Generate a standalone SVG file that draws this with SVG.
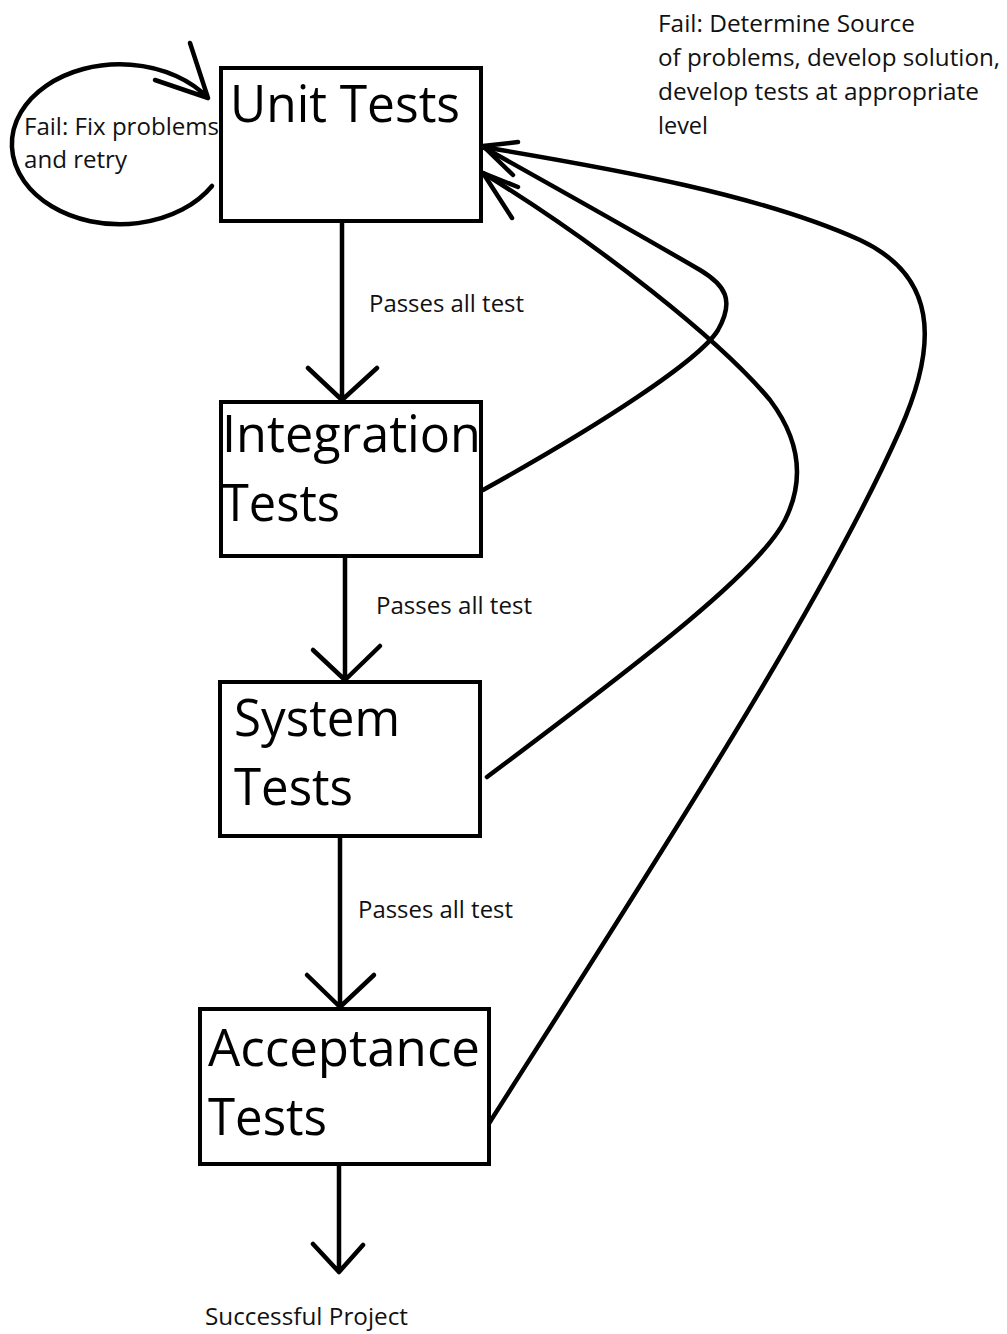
<svg xmlns="http://www.w3.org/2000/svg" width="1007" height="1334" viewBox="0 0 1007 1334">
<style>
.box{fill:#fff;stroke:#000;stroke-width:4}
.ln{fill:none;stroke:#000;stroke-width:4.5;stroke-linecap:round;stroke-linejoin:round}
.big{font-family:"Open Sans","Noto Sans",sans-serif;font-size:52px;fill:#000}
.sm{font-family:"Open Sans","Noto Sans",sans-serif;font-size:23px;fill:#111}
</style>
<rect width="1007" height="1334" fill="#fff"/>
<g id="connectors">
<path class="ln" d="M342,221 V400 M308,368 L342,400 L377,368"/>
<path class="ln" d="M345,556 V680 M313,650 L345,680 L380,646"/>
<path class="ln" d="M340,836 V1007 M307,975 L340,1007 L374,975"/>
<path class="ln" d="M339,1164 V1272 M313,1244 L339,1272 L363,1245"/>
<path class="ln" d="M212,186 A108 80 0 1 1 208,98 M190,43 L208,98 L155,80"/>
<path class="ln" d="M483,490 C600,425 700,360 718,330 C735,300 725,285 700,270 C640,235 560,190 483,147"/>
<path class="ln" d="M487,777 C650,655 760,570 785,520 C805,480 800,440 770,400 C720,340 600,245 483,173"/>
<path class="ln" d="M488,1125 C650,870 820,610 900,430 C940,340 935,275 860,240 C760,195 620,170 483,147"/>
<path class="ln" d="M518,142 L483,146 L513,175 M518,187 L483,173 L512,218"/>
</g>
<g id="unit">
<rect class="box" x="221" y="68" width="260" height="153"/>
<text class="big" x="230" y="122" textLength="230" lengthAdjust="spacingAndGlyphs">Unit Tests</text>
</g>
<g id="integration">
<rect class="box" x="221" y="402" width="260" height="154"/>
<text class="big" x="222" y="452" textLength="259" lengthAdjust="spacingAndGlyphs">Integration</text>
<text class="big" x="222" y="521" textLength="118" lengthAdjust="spacingAndGlyphs">Tests</text>
</g>
<g id="system">
<rect class="box" x="220" y="682" width="260" height="154"/>
<text class="big" x="234" y="736" textLength="166" lengthAdjust="spacingAndGlyphs">System</text>
<text class="big" x="234" y="805" textLength="119" lengthAdjust="spacingAndGlyphs">Tests</text>
</g>
<g id="acceptance">
<rect class="box" x="200" y="1009" width="289" height="155"/>
<text class="big" x="208" y="1066" textLength="272" lengthAdjust="spacingAndGlyphs">Acceptance</text>
<text class="big" x="208" y="1135" textLength="119" lengthAdjust="spacingAndGlyphs">Tests</text>
</g>
<g id="labels">
<text class="sm" x="24" y="135" textLength="195" lengthAdjust="spacingAndGlyphs">Fail: Fix problems</text>
<text class="sm" x="24" y="168" textLength="103" lengthAdjust="spacingAndGlyphs">and retry</text>
<text class="sm" x="658" y="32" textLength="257" lengthAdjust="spacingAndGlyphs">Fail: Determine Source</text>
<text class="sm" x="658" y="66" textLength="342" lengthAdjust="spacingAndGlyphs">of problems, develop solution,</text>
<text class="sm" x="658" y="100" textLength="321" lengthAdjust="spacingAndGlyphs">develop tests at appropriate</text>
<text class="sm" x="658" y="134" textLength="50" lengthAdjust="spacingAndGlyphs">level</text>
<text class="sm" x="369" y="312" textLength="155" lengthAdjust="spacingAndGlyphs">Passes all test</text>
<text class="sm" x="376" y="614" textLength="156" lengthAdjust="spacingAndGlyphs">Passes all test</text>
<text class="sm" x="358" y="918" textLength="155" lengthAdjust="spacingAndGlyphs">Passes all test</text>
<text class="sm" x="205" y="1325" textLength="203" lengthAdjust="spacingAndGlyphs">Successful Project</text>
</g>
</svg>
